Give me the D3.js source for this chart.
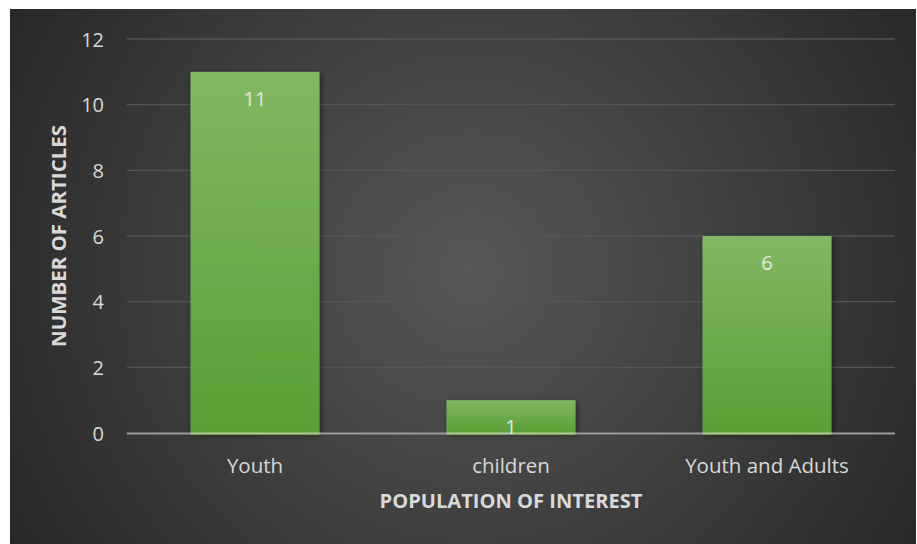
<!DOCTYPE html>
<html><head><meta charset="utf-8">
<script src="https://cdn.jsdelivr.net/npm/d3@7"></script>
<style>html,body{margin:0;padding:0;background:#fff;}svg{display:block;}</style>
</head><body>
<svg id="chart" width="917" height="544"></svg>
<script>
const categories = ["Youth", "children", "Youth and Adults"];
const values = [11, 1, 6];
const yTicks = [0, 2, 4, 6, 8, 10, 12];
const xTitle = "POPULATION OF INTEREST";
const yTitle = "NUMBER OF ARTICLES";

const svg = d3.select("#chart");
const defs = svg.append("defs");
const bg = defs.append("radialGradient").attr("id","bg")
  .attr("gradientUnits","userSpaceOnUse").attr("cx",470).attr("cy",270).attr("r",560);
bg.append("stop").attr("offset","0%").attr("stop-color","#575757");
bg.append("stop").attr("offset","100%").attr("stop-color","#252525");
const bar = defs.append("linearGradient").attr("id","bar").attr("x1",0).attr("y1",0).attr("x2",0).attr("y2",1);
bar.append("stop").attr("offset","0%").attr("stop-color","#81b863");
bar.append("stop").attr("offset","100%").attr("stop-color","#5b9e33");
const sh = defs.append("filter").attr("id","sh").attr("x","-20%").attr("y","-20%").attr("width","140%").attr("height","140%");
sh.append("feDropShadow").attr("dx",2).attr("dy",2).attr("stdDeviation",3).attr("flood-color","#000").attr("flood-opacity",0.45);

svg.append("rect").attr("x",10).attr("y",9).attr("width",906).attr("height",535).attr("fill","url(#bg)");

const x = d3.scaleBand().domain(categories).range([127, 895]).paddingInner(0.496).paddingOuter(0.248);
const y = d3.scaleLinear().domain([0, 12]).range([433, 39]);
const font = "'Open Sans', sans-serif";

// gridlines
svg.append("g").selectAll("line").data(yTicks.filter(d=>d>0)).join("line")
  .attr("x1",127).attr("x2",895).attr("y1",d=>y(d)).attr("y2",d=>y(d))
  .attr("stroke","#555555").attr("stroke-width",1.3);

// y axis labels
const yAxis = d3.axisLeft(y).tickValues(yTicks).tickSize(0).tickPadding(0);
const yg = svg.append("g").attr("transform","translate(104,0)").call(yAxis);
yg.select(".domain").remove();
yg.selectAll("text").attr("fill","#d9d9d9").attr("font-family",font).attr("font-size","20px").attr("dy","0.36em");

// bars
svg.append("g").selectAll("rect").data(values).join("rect")
  .attr("x",(d,i)=>x(categories[i])).attr("width",x.bandwidth())
  .attr("y",d=>y(d)).attr("height",d=>y(0)-y(d))
  .attr("fill","url(#bar)").attr("filter","url(#sh)");

// axis baseline
svg.append("line").attr("x1",127).attr("x2",895).attr("y1",y(0)+0.5).attr("y2",y(0)+0.5)
  .attr("stroke","#9a9a9a").attr("stroke-width",2);
svg.append("g").selectAll("line").data(values).join("line")
  .attr("x1",(d,i)=>x(categories[i])).attr("x2",(d,i)=>x(categories[i])+x.bandwidth())
  .attr("y1",y(0)+0.5).attr("y2",y(0)+0.5).attr("stroke","#9fcf80").attr("stroke-width",2);

// data labels
svg.append("g").selectAll("text").data(values).join("text")
  .attr("x",(d,i)=>x(categories[i])+x.bandwidth()/2).attr("y",d=>y(d)+34)
  .attr("text-anchor","middle").attr("fill","#e6e6e6")
  .attr("font-family",font).attr("font-size","20px").text(d=>d);

// x axis labels
const xAxis = d3.axisBottom(x).tickSize(0).tickPadding(0);
const xg = svg.append("g").attr("transform","translate(0,"+(y(0)+25)+")").call(xAxis);
xg.select(".domain").remove();
xg.selectAll("text").attr("fill","#d9d9d9").attr("font-family",font).attr("font-size","20.5px").attr("dy","0.71em");

// titles
svg.append("text").attr("x",511).attr("y",508).attr("text-anchor","middle")
  .attr("fill","#d9d9d9").attr("font-family",font).attr("font-weight","bold")
  .attr("font-size","20px").attr("textLength",263).attr("lengthAdjust","spacingAndGlyphs").text(xTitle);
svg.append("text").attr("transform","translate(66,236) rotate(-90)").attr("text-anchor","middle")
  .attr("fill","#d9d9d9").attr("font-family",font).attr("font-weight","bold")
  .attr("font-size","20px").attr("textLength",222).attr("lengthAdjust","spacingAndGlyphs").text(yTitle);
</script>
</body></html>
